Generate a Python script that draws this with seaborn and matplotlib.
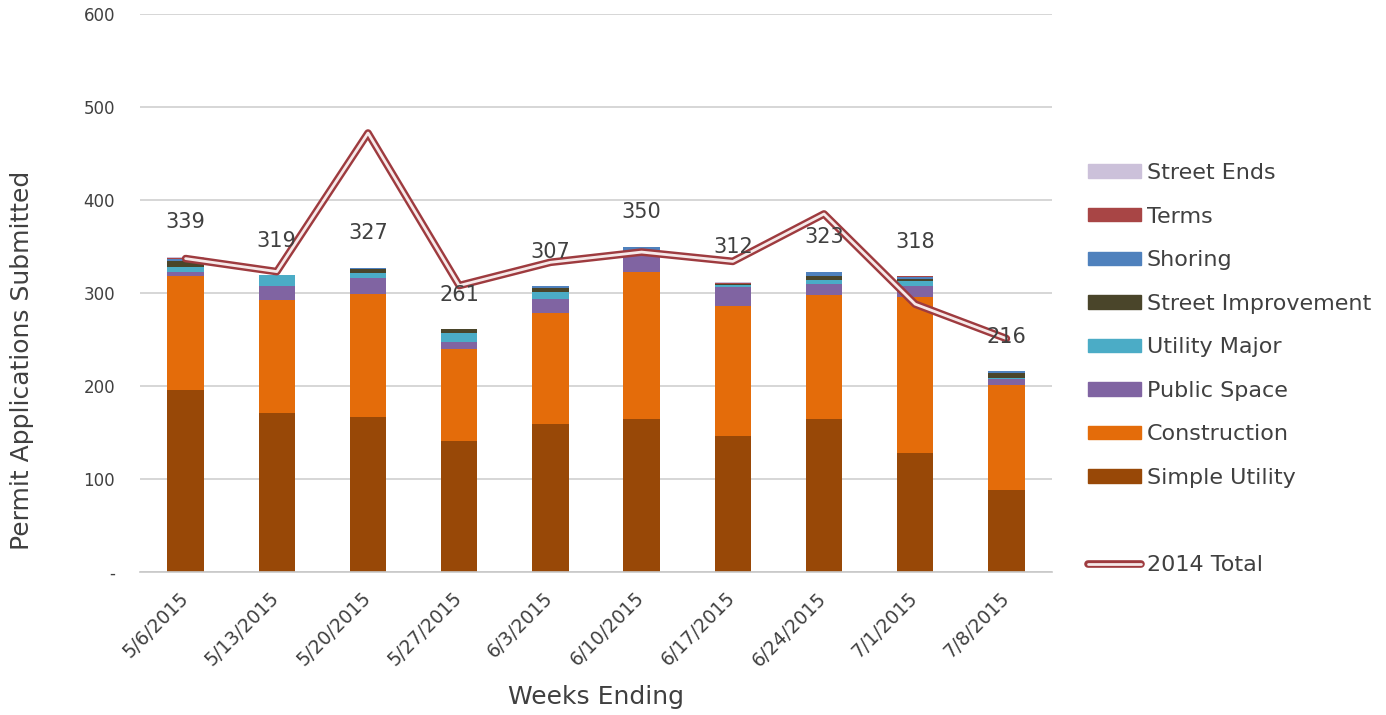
import numpy as np
import pandas as pd
import seaborn as sns
import matplotlib
matplotlib.use('Agg')
import matplotlib.pyplot as plt
import matplotlib.patheffects as pe
import matplotlib.transforms as mtrans
from matplotlib.patches import Patch
from matplotlib.lines import Line2D

# weeks on the x axis
weeks = ["5/6/2015", "5/13/2015", "5/20/2015", "5/27/2015", "6/3/2015",
         "6/10/2015", "6/17/2015", "6/24/2015", "7/1/2015", "7/8/2015"]

# permit types, bottom to top
simple_utility = [196, 171, 167, 141, 159, 164, 146, 165, 128, 88]
construction = [122, 122, 132, 99, 120, 159, 140, 133, 168, 113]
public_space = [5, 15, 17, 7, 15, 19, 20, 12, 12, 6]
utility_major = [5, 11, 5, 10, 7, 2, 3, 4, 5, 2]
street_improvement = [6, 0, 5, 4, 4, 1, 1, 4, 2, 5]
shoring = [3, 0, 1, 0, 2, 5, 0, 5, 2, 2]
terms = [1, 0, 0, 0, 0, 0, 1, 0, 1, 0]
street_ends = [1, 0, 0, 0, 0, 0, 1, 0, 0, 0]

totals_2014 = [337, 323, 472, 308, 333, 344, 334, 385, 288, 251]

layer_names = ["Simple Utility", "Construction", "Public Space", "Utility Major",
               "Street Improvement", "Shoring", "Terms", "Street Ends"]
layer_values = [simple_utility, construction, public_space, utility_major,
                street_improvement, shoring, terms, street_ends]
layer_colors = ["#984807", "#E46C0A", "#8064A2", "#4BACC6",
                "#4A452A", "#4F81BD", "#A84545", "#CCC1DA"]

txt = "#404040"
sns.set_theme(style="white")
plt.rcParams['font.family'] = ['DejaVu Sans']

df = pd.DataFrame(dict(zip(layer_names, layer_values)))
df["Week"] = weeks
cum = df[layer_names].cumsum(axis=1)
totals = cum[layer_names[-1]].values

fig = plt.figure(figsize=(13.86, 7.15), dpi=100)
ax = fig.add_axes([140 / 1386, 1 - 572 / 715, 912 / 1386, 558 / 715])

# draw cumulative heights from the top layer down so each overlaps the next
for name, col in reversed(list(zip(layer_names, layer_colors))):
    sns.barplot(x=df["Week"], y=cum[name], color=col, saturation=1,
                width=0.4, linewidth=0, ax=ax, zorder=2)

# 2014 total as a double line
line_fx = [pe.Stroke(linewidth=5.5, foreground="#9E3B3F"), pe.Normal()]
xs = np.arange(len(weeks))
sns.lineplot(x=xs, y=totals_2014, ax=ax, color="#F6E9E9", linewidth=2, zorder=4,
             path_effects=line_fx)

for i, t in enumerate(totals):
    ax.text(i, t + 37, str(t), ha="center", va="center", fontsize=15, color=txt, zorder=5)

ax.set_ylim(0, 600)
ax.set_xlim(-0.5, len(weeks) - 0.5)
ax.set_yticks(range(0, 601, 100))
ax.set_yticklabels(["-"] + [str(v) for v in range(100, 601, 100)])
ax.yaxis.grid(True, color="#D0D0D0", linewidth=1.2, zorder=0)
ax.set_axisbelow(True)
for s in ["top", "right", "left"]:
    ax.spines[s].set_visible(False)
ax.spines["bottom"].set_color("#C8C8C8")
ax.spines["bottom"].set_linewidth(1.2)
ax.tick_params(axis="y", length=0, labelsize=12, labelcolor=txt, pad=18)
ax.tick_params(axis="x", length=0, labelsize=13.5, labelcolor=txt, pad=12)
shift = mtrans.ScaledTranslation(-7 / 100, 0, fig.dpi_scale_trans)
for lab in ax.get_xticklabels():
    lab.set_rotation(45)
    lab.set_ha("right")
    lab.set_va("top")
    lab.set_rotation_mode("anchor")
    lab.set_transform(lab.get_transform() + shift)
ax.set_xlabel("Weeks Ending", fontsize=18, color=txt)
ax.xaxis.set_label_coords(0.5, -(697 - 572) / 558)
ax.xaxis.label.set_va("center")
ax.set_ylabel("Permit Applications Submitted", fontsize=18, color=txt)
ax.yaxis.set_label_coords(-(140 - 22) / 912, (572 - 360) / 558)
ax.yaxis.label.set_va("center")

handles = [Patch(color=c) for c in reversed(layer_colors)]
labels = list(reversed(layer_names))
handles.append(Patch(color="none"))
labels.append(" ")
handles.append(Line2D([], [], color="#F6E9E9", linewidth=2, path_effects=line_fx))
labels.append("2014 Total")
leg = fig.legend(handles, labels, loc="upper left", bbox_to_anchor=(1068 / 1386, 1 - 143 / 715),
                 frameon=False, fontsize=16, labelspacing=1.06, handlelength=2.4,
                 handleheight=0.55, handletextpad=0.25, labelcolor=txt)

fig.savefig("out.png", dpi=100)
